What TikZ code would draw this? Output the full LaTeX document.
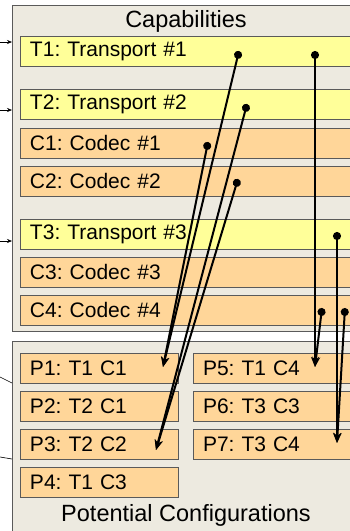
\documentclass[tikz,border=0pt]{standalone}
\usepackage{fontspec}
\setmainfont{Liberation Sans}
\usepackage{tikz}
\usetikzlibrary{arrows.meta,positioning}
\frenchspacing
\definecolor{frameGray}{RGB}{90,90,90}
\definecolor{panelBeige}{RGB}{237,234,224}
\definecolor{transportYellow}{RGB}{255,255,153}
\definecolor{codecOrange}{RGB}{255,214,153}
\tikzset{
  groupbox/.style={
    rectangle, draw=frameGray, fill=panelBeige, line width=0.8pt,
    anchor=north west, inner sep=0pt
  },
  rowbox/.style={
    rectangle, draw=frameGray, line width=0.8pt, minimum height=30pt,
    text width=340pt, inner xsep=10pt, inner ysep=0pt, outer sep=0pt,
    align=left, font=\fontsize{21pt}{24pt}\selectfont
  },
  transport/.style={rowbox, fill=transportYellow},
  codec/.style={rowbox, fill=codecOrange},
  confbox/.style={rowbox, fill=codecOrange, text width=138pt},
  grouptitle/.style={font=\fontsize{23.5pt}{26pt}\selectfont},
  link/.style={line width=2pt,
    {Circle[length=8pt]}-{Stealth[length=10pt,width=8pt,inset=3pt]}},
  stub/.style={line width=0.6pt, -{Stealth[length=5pt,width=4pt]}},
  feed/.style={line width=0.6pt}
}

\begin{document}
\begin{tikzpicture}[x=1pt,y=-1pt]
  \useasboundingbox (0,0) rectangle (350,531);
  \clip (0,0) rectangle (350,531);

  % the two panels
  \node[groupbox, minimum width=360pt, minimum height=326pt] (cap) at (12,5) {};
  \node[groupbox, minimum width=360pt, minimum height=200pt] (pot) at (12,341) {};
  \node[grouptitle] (captitle) at (186,21) {Capabilities};
  \node[grouptitle] (pottitle) at (186,515) {Potential Configurations};

  % capability rows
  \node[transport, anchor=north west] (t1) at (20,36) {T1: Transport \#1};
  \node[transport, below=23pt of t1] (t2) {T2: Transport \#2};
  \node[codec, below=9pt of t2] (c1) {C1: Codec \#1};
  \node[codec, below=8pt of c1] (c2) {C2: Codec \#2};
  \node[transport, below=23pt of c2] (t3) {T3: Transport \#3};
  \node[codec, below=8pt of t3] (c3) {C3: Codec \#3};
  \node[codec, below=8pt of c3] (c4) {C4: Codec \#4};

  % configurations
  \node[confbox, anchor=north west] (p1) at (20,353) {P1: T1 C1};
  \node[confbox, below=8pt of p1] (p2) {P2: T2 C1};
  \node[confbox, below=8pt of p2] (p3) {P3: T2 C2};
  \node[confbox, below=8pt of p3] (p4) {P4: T1 C3};
  \node[confbox, right=15pt of p1] (p5) {P5: T1 C4};
  \node[confbox, below=8pt of p5] (p6) {P6: T3 C3};
  \node[confbox, below=8pt of p6] (p7) {P7: T3 C4};

  % connection points
  \coordinate (t1a) at (239,51);
  \coordinate (t1b) at (315,51);
  \coordinate (t2a) at (247,104);
  \coordinate (c1a) at (208,142);
  \coordinate (c2a) at (238,179);
  \coordinate (t3a) at (337,232);
  \coordinate (c4a) at (322,308);
  \coordinate (c4b) at (345,308);
  \coordinate (p1in) at (163,367);
  \coordinate (p3in) at (156,450);
  \coordinate (p5in) at (315,367);
  \coordinate (p7in) at (337,443);

  \draw[link] (t1a) -- (p1in);
  \draw[link] (c1a) -- (p1in);
  \draw[link] (t2a) -- (p3in);
  \draw[link] (c2a) -- (p3in);
  \draw[link] (t1b) -- (p5in);
  \draw[link] (c4a) -- (p5in);
  \draw[link] (t3a) -- (p7in);
  \draw[link] (c4b) -- (p7in);

  % incoming from the left
  \coordinate (in1) at (0,42);
  \coordinate (in2) at (0,110);
  \coordinate (in3) at (0,241);
  \coordinate (in4) at (0,377);
  \coordinate (in5) at (0,457);
  \draw[stub] (in1) -- (in1 -| cap.west);
  \draw[stub] (in2) -- (in2 -| cap.west);
  \draw[stub] (in3) -- (in3 -| cap.west);
  \draw[feed] (in4) -- (pot.west |- 0,383);
  \draw[feed] (in5) -- (pot.west |- 0,459);
\end{tikzpicture}
\end{document}
